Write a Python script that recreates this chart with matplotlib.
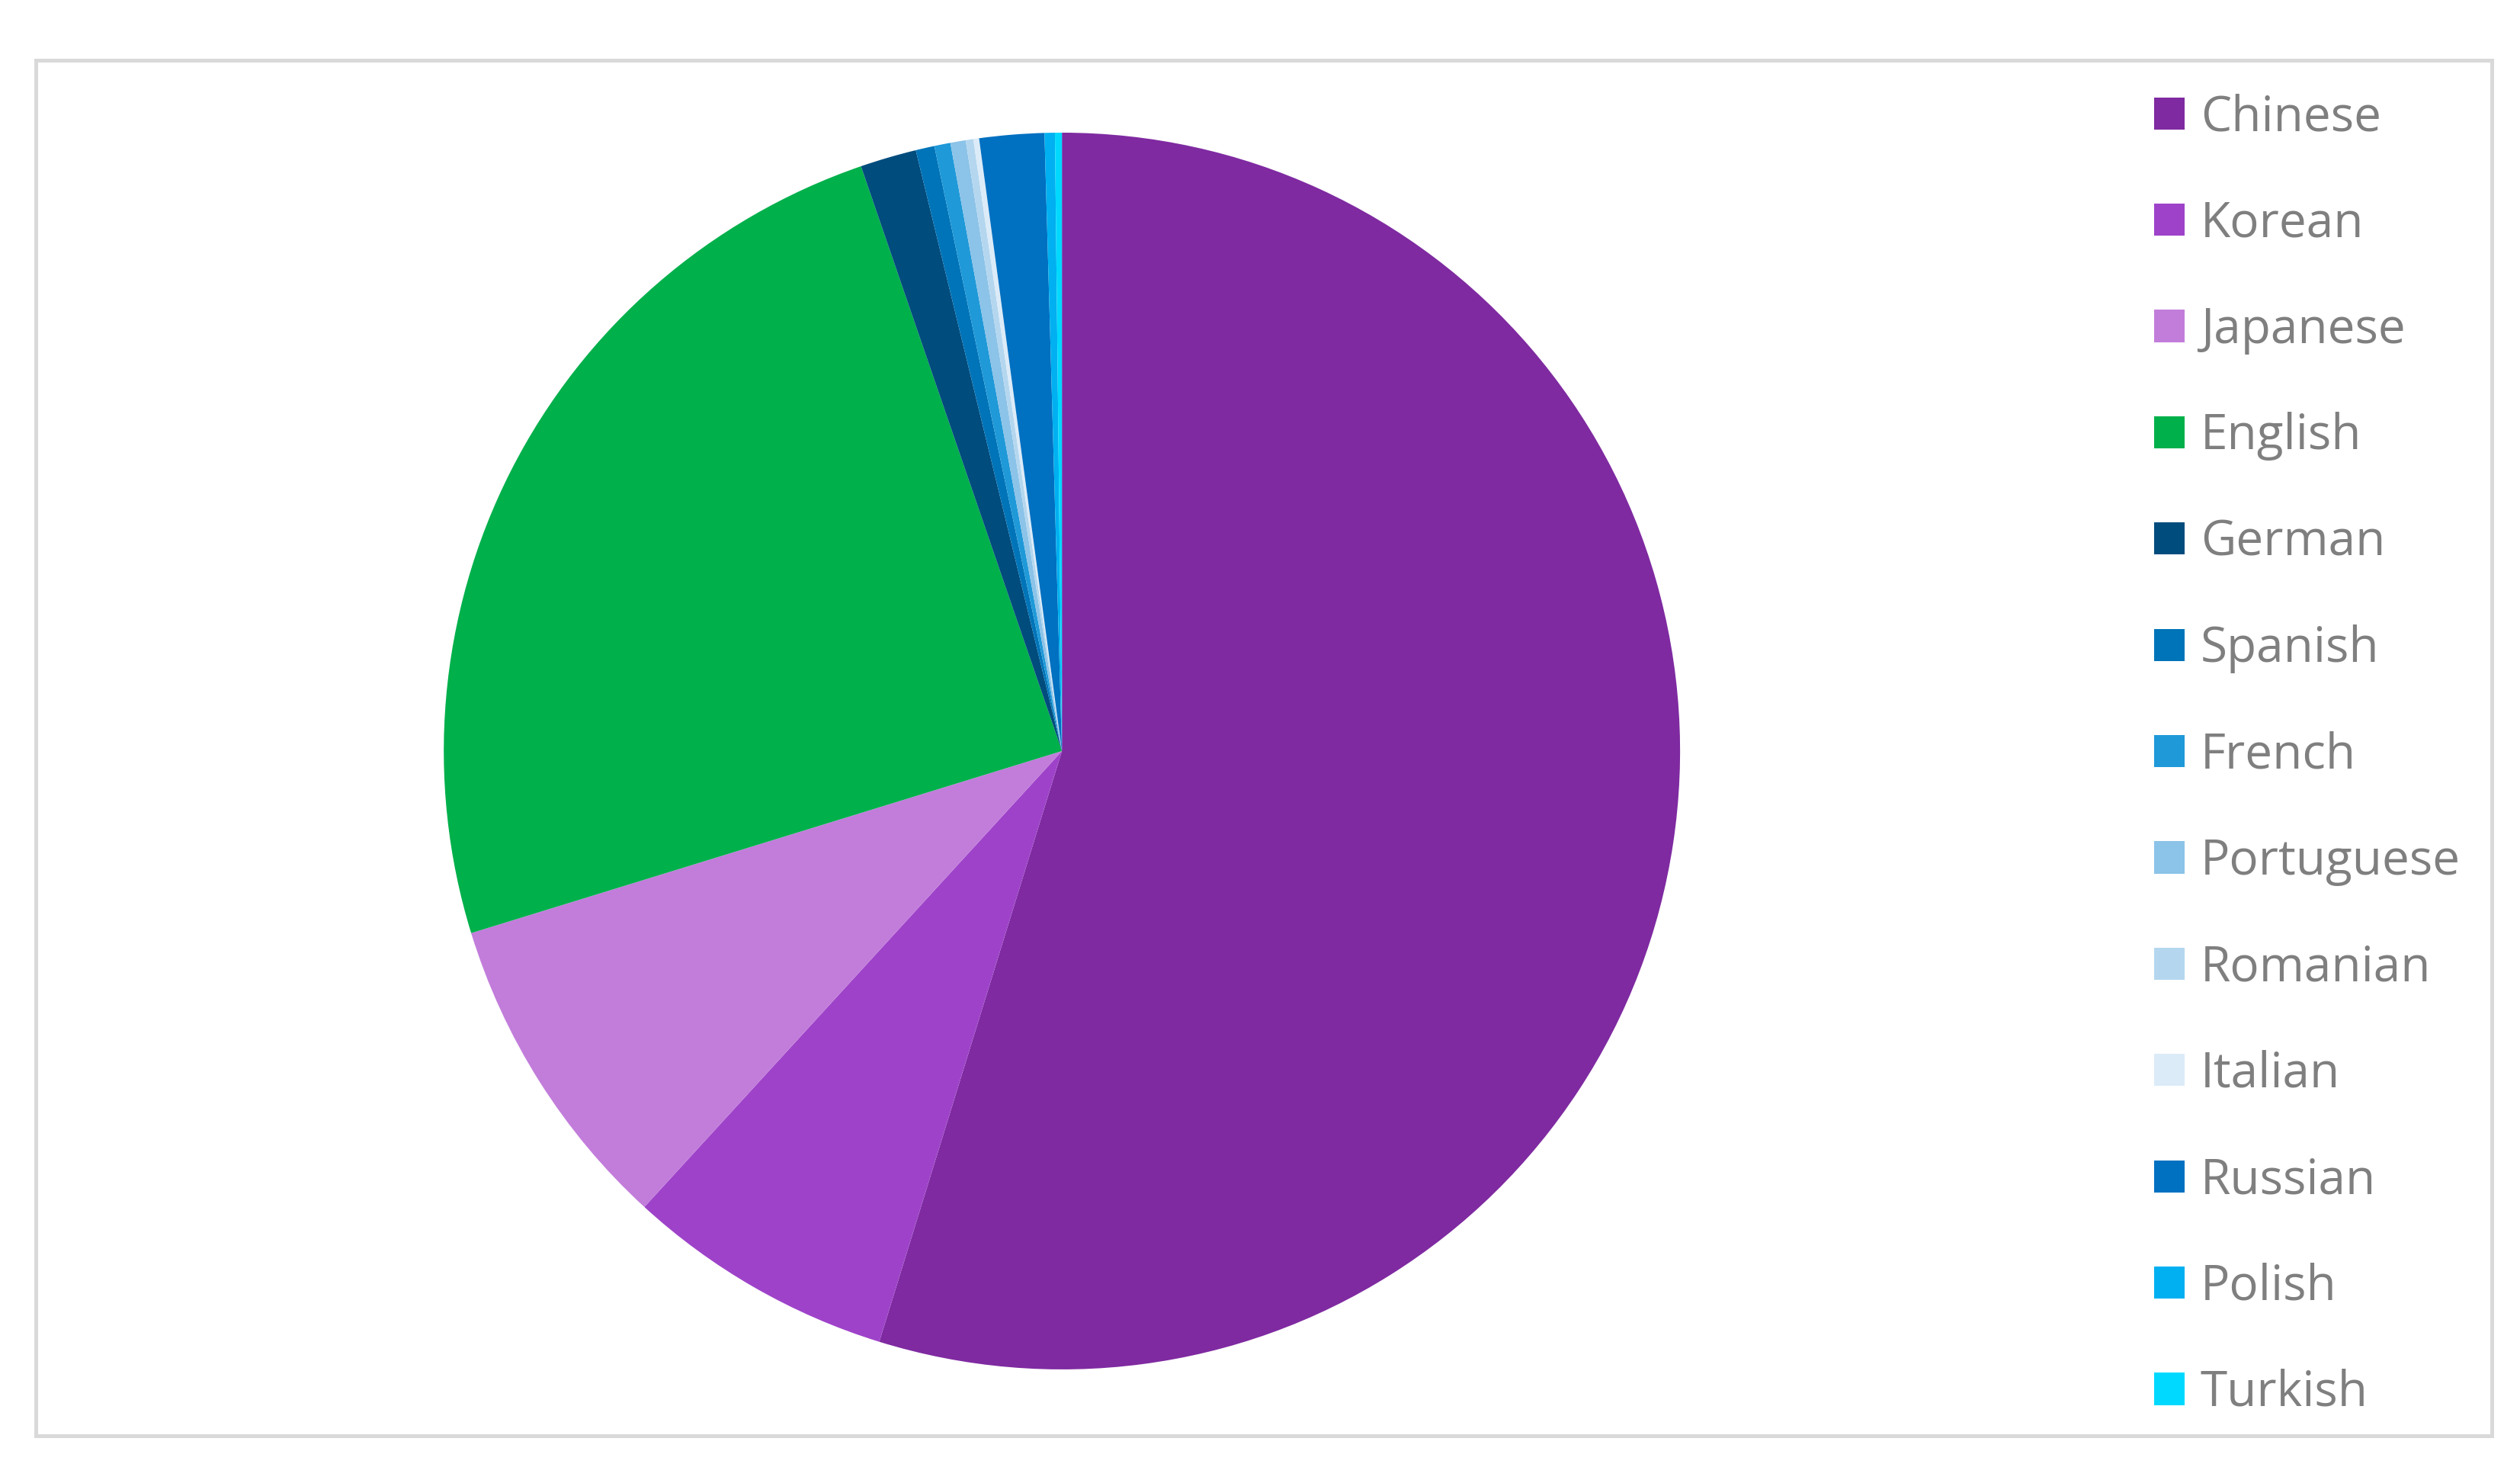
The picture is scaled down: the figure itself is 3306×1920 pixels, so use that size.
import matplotlib
matplotlib.use("Agg")
import matplotlib.pyplot as plt
from matplotlib.patches import Rectangle

LANGS = ["Chinese", "Korean", "Japanese", "English", "German", "Spanish",
         "French", "Portuguese", "Romanian", "Italian", "Russian", "Polish",
         "Turkish"]
SHARES = [54.78, 7.03, 8.44, 24.49, 1.47, 0.49,
          0.42, 0.40, 0.20, 0.15, 1.69, 0.27, 0.18]
COLORS = ["#7F2AA1", "#9E43C9", "#C27DDB", "#00B04B", "#004C7D", "#0074B8",
          "#1F99D8", "#8CC3E8", "#B4D7EF", "#DCEBF8", "#0070C1", "#00B0F0",
          "#00D9FF"]

plt.rcParams["font.family"] = ["Open Sans", "DejaVu Sans"]

fig = plt.figure(figsize=(16.53, 9.6), dpi=200)

# outer frame
fig.patches.append(Rectangle((0.0142, 0.0195), 0.9745, 0.9395,
                             transform=fig.transFigure, fill=False,
                             edgecolor="#D9D9D9", lw=1.8))

ax = fig.add_axes([0.4214 - 0.2453, 0.487 - 0.4224, 0.4906, 0.8448])
wedges, _ = ax.pie(SHARES, colors=COLORS, startangle=90, counterclock=False,
                   wedgeprops={"linewidth": 0})
ax.set_aspect("equal")
ax.set_xlim(-1, 1)
ax.set_ylim(-1, 1)
ax.axis("off")

fig.legend(wedges, LANGS, loc="upper left", bbox_to_anchor=(0.845, 0.953),
           frameon=False, fontsize=23, labelcolor="#7F7F7F",
           handlelength=0.64, handleheight=0.64, handletextpad=0.32,
           labelspacing=1.18, borderpad=0)

fig.savefig("out.png", dpi=200)
